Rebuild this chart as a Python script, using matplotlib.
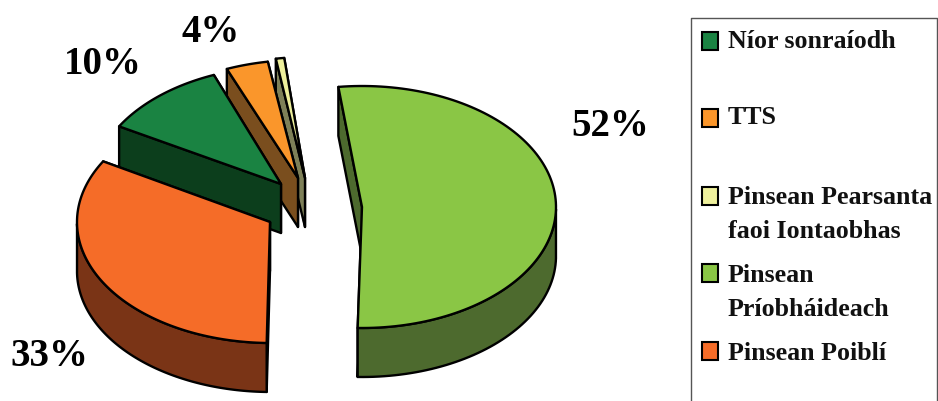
import matplotlib
matplotlib.use("Agg")
import matplotlib.pyplot as plt
from matplotlib.patches import Polygon, Rectangle
import numpy as np

# pie order, clockwise from the top
names = ["Pinsean Príobháideach", "Pinsean Poiblí", "Níor sonraíodh", "TTS", "Pinsean Pearsanta faoi Iontaobhas"]
shares = [52.3, 33, 10.49, 3.5, 0.7]
show_label = [True, True, True, True, False]
top_colors = ["#8AC645", "#F56C28", "#1A8342", "#FA962B", "#EEF09C"]
side_colors = ["#4D6A2E", "#7A3416", "#0C3E1C", "#7A4E1E", "#7E8058"]

legend_order = [2, 3, 4, 0, 1]
legend_lines = [["Níor sonraíodh"], ["TTS"], ["Pinsean Pearsanta", "faoi Iontaobhas"],
                ["Pinsean", "Príobháideach"], ["Pinsean Poiblí"]]

# layout in pixels
apex = [(362, 207), (270, 222), (281, 184), (298, 178), (305, 178)]
arc_shift = [(0, 0), (1, 0), (6, 3), (2, 3), (3, 0)]
label_pos = [(610, 126), (49, 356), (103, 64), (211, 33), None]
legend_sq_y = [40.5, 117.5, 195.5, 272.5, 350.5]
legend_text_y = [[42], [118], [197, 232], [275, 310], [353]]
RX, RY, DEPTH = 194, 121, 49
START = 97

plt.rcParams["font.family"] = ["Liberation Serif", "DejaVu Serif"]

fig = plt.figure(figsize=(9.38, 4.01), dpi=100)
ax = fig.add_axes([0, 0, 1, 1])
ax.set_xlim(0, 938)
ax.set_ylim(401, 0)
ax.axis("off")

ends = START - np.cumsum(shares) * 3.6
starts = np.r_[START, ends[:-1]]
LW = 1.7


def face(pts, color, z):
    ax.add_patch(Polygon(pts, closed=True, facecolor=color, edgecolor="black",
                         linewidth=LW, joinstyle="round", zorder=z))


# smallest slice first so the big ones land on top
for i in [4, 3, 2, 1, 0]:
    a0, a1 = starts[i], ends[i]
    cx, cy = apex[i]
    sx, sy = arc_shift[i]
    t = np.radians(np.linspace(a0, a1, 120))
    xs = cx + sx + RX * np.cos(t)
    ys = cy + sy - RY * np.sin(t)
    top = np.column_stack([np.r_[cx, xs], np.r_[cy, ys]])
    z = 10 + (5 - i) * 4

    # cut faces, the trailing one goes behind the leading one
    for k, (x, y) in enumerate([(xs[-1], ys[-1]), (xs[0], ys[0])]):
        face([(cx, cy), (x, y), (x, y + DEPTH), (cx, cy + DEPTH)], side_colors[i], z + k)
    # outer wall, only the part of the rim facing the viewer
    front = np.sin(t) < 0
    if front.any():
        fx, fy = xs[front], ys[front]
        face(np.column_stack([np.r_[fx, fx[::-1]], np.r_[fy, fy[::-1] + DEPTH]]), side_colors[i], z + 2)
    face(top, top_colors[i], z + 3)

for i, pos in enumerate(label_pos):
    if show_label[i]:
        ax.text(pos[0], pos[1], f"{shares[i]:.0f}%", fontsize=28, fontweight="bold",
                ha="center", va="center", color="black", zorder=40)

# legend box runs off the bottom of the image
ax.add_line(plt.Line2D([691, 691, 937, 937], [401, 18, 18, 401], color="#555555", lw=1.0, zorder=40))
for row, i in enumerate(legend_order):
    ax.add_patch(Rectangle((702, legend_sq_y[row] - 9), 16, 18, facecolor=top_colors[i],
                           edgecolor="black", linewidth=1.5, zorder=41))
    for line, y in zip(legend_lines[row], legend_text_y[row]):
        ax.text(728, y, line, fontsize=18.7, fontweight="bold", ha="left", va="center",
                color="#111111", zorder=41)

fig.savefig("out.png", dpi=100)
